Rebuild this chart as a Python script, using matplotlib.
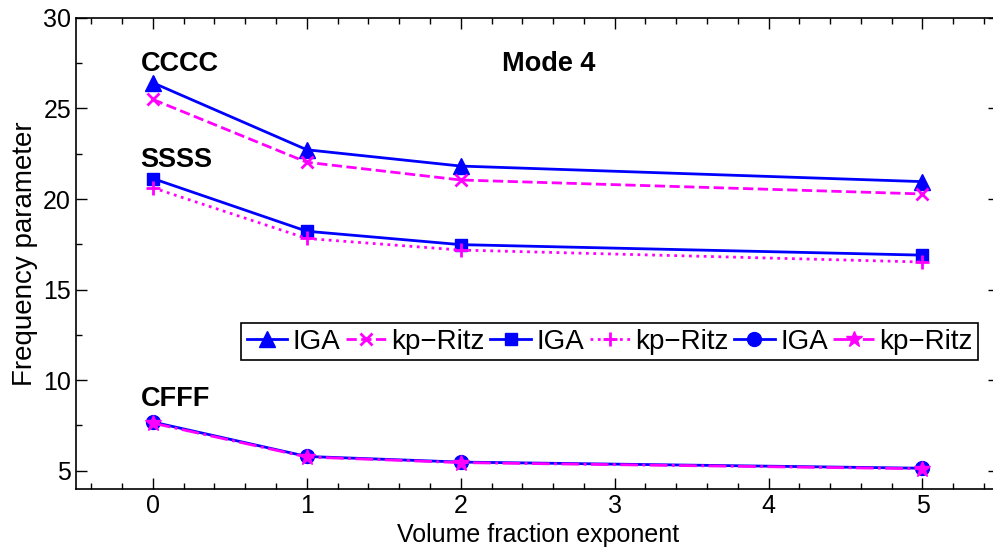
import numpy as np
import matplotlib.pyplot as plt
import matplotlib.ticker as ticker

plt.rcParams['font.family'] = ['Liberation Sans', 'DejaVu Sans']

# ── data ──────────────────────────────────────────────────────────────────────
exponent = [0, 1, 2, 5]

cccc_iga = [26.42, 22.72, 21.82, 20.96]
cccc_ritz = [25.50, 22.03, 21.05, 20.28]
ssss_iga = [21.13, 18.22, 17.48, 16.90]
ssss_ritz = [20.62, 17.82, 17.18, 16.52]
cfff_iga = [7.68, 5.78, 5.47, 5.13]
cfff_ritz = [7.62, 5.75, 5.44, 5.10]

blue, magenta = '#0000ff', '#ff00ff'
series = [
    (cccc_iga, 'IGA', blue, '-', '^', 11),
    (cccc_ritz, 'kp\u2212Ritz', magenta, '--', 'x', 8),
    (ssss_iga, 'IGA', blue, '-', 's', 9),
    (ssss_ritz, 'kp\u2212Ritz', magenta, ':', '+', 10),
    (cfff_iga, 'IGA', blue, '-', 'o', 10),
    (cfff_ritz, 'kp\u2212Ritz', magenta, '-.', '*', 12),
]

fig = plt.figure(figsize=(9.93, 5.53), dpi=100)
ax = fig.add_axes([0.0765, 0.1163, 0.930, 0.8512])

for vals, lab, col, ls, mk, ms in series:
    ax.plot(exponent, vals, color=col, linestyle=ls, marker=mk, markersize=ms,
            linewidth=2, markeredgewidth=2 if mk in 'x+' else 1,
            markeredgecolor=col, label=lab)

ax.set_xlim(-0.5, 5.5)
ax.set_ylim(4, 30)
ax.set_xticks(range(6))
ax.set_yticks([5, 10, 15, 20, 25, 30])
ax.xaxis.set_minor_locator(ticker.MultipleLocator(0.2))
ax.yaxis.set_minor_locator(ticker.MultipleLocator(2.5))
ax.tick_params(which='both', direction='in', top=True, right=True,
               labelsize=18, width=1)
ax.tick_params(which='major', length=8)
ax.tick_params(which='minor', length=4)
for s in ax.spines.values():
    s.set_linewidth(1.2)

ax.set_xlabel('Volume fraction exponent', fontsize=18, labelpad=4)
ax.set_ylabel('Frequency parameter', fontsize=20, labelpad=4)

ax.text(-0.08, 27.45, 'CCCC', fontsize=19.5, fontweight='bold', va='center')
ax.text(-0.08, 22.15, 'SSSS', fontsize=19.5, fontweight='bold', va='center')
ax.text(-0.08, 8.95, 'CFFF', fontsize=19.5, fontweight='bold', va='center')
ax.text(2.57, 27.45, 'Mode 4', fontsize=19.5, fontweight='bold',
        va='center', ha='center')

leg = ax.legend(ncol=6, loc='lower right', bbox_to_anchor=(0.977, 0.273),
                fontsize=20, handlelength=1.45, handletextpad=0.2,
                columnspacing=0.2, borderpad=0.2, borderaxespad=0,
                fancybox=False, framealpha=1, edgecolor='black')
leg.get_frame().set_linewidth(1.2)

fig.savefig('out.png', dpi=100)
